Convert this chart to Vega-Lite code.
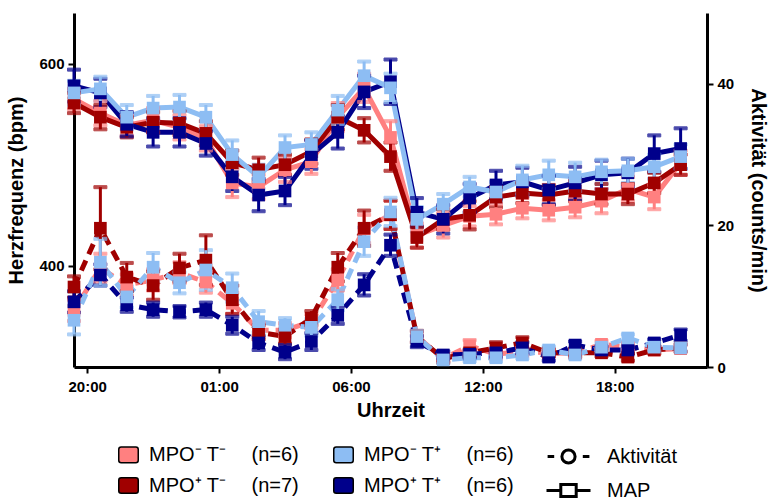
{
  "$schema": "https://vega.github.io/schema/vega-lite/v6.json",
  "width": 633,
  "height": 354,
  "autosize": "none",
  "padding": {"left": 74, "top": 13, "right": 65, "bottom": 135},
  "background": "white",
  "config": {
    "view": {"stroke": null},
    "font": "Liberation Sans",
    "axis": {
      "domainColor": "black", "domainWidth": 3, "tickColor": "black", "tickWidth": 2, "tickSize": 6,
      "labelFont": "Liberation Sans", "labelFontWeight": "bold", "labelFontSize": 15, "labelColor": "black",
      "titleFont": "Liberation Sans", "titleFontWeight": "bold", "titleFontSize": 20, "titleColor": "black",
      "grid": false
    }
  },
  "data": {"values": [
    {"g":"A","i":0,"hr":565,"hs":10,"ac":8.0,"as":1.5},{"g":"A","i":1,"hr":551,"hs":12,"ac":14.0,"as":2},{"g":"A","i":2,"hr":539,"hs":10,"ac":11.6,"as":1.5},{"g":"A","i":3,"hr":544,"hs":12,"ac":12.3,"as":1.5},{"g":"A","i":4,"hr":537,"hs":12,"ac":13.3,"as":1.5},{"g":"A","i":5,"hr":526,"hs":12,"ac":12.0,"as":1.5},{"g":"A","i":6,"hr":482,"hs":14,"ac":9.0,"as":1.5},{"g":"A","i":7,"hr":478,"hs":12,"ac":5.2,"as":1},{"g":"A","i":8,"hr":495,"hs":12,"ac":5.2,"as":1},{"g":"A","i":9,"hr":503,"hs":12,"ac":6.4,"as":1},{"g":"A","i":10,"hr":547,"hs":14,"ac":12.3,"as":1.5},{"g":"A","i":11,"hr":576,"hs":14,"ac":19.5,"as":2},{"g":"A","i":12,"hr":527,"hs":16,"ac":21.5,"as":2},{"g":"A","i":13,"hr":430,"hs":12,"ac":4.3,"as":0.8},{"g":"A","i":14,"hr":440,"hs":12,"ac":1.2,"as":0.5},{"g":"A","i":15,"hr":449,"hs":10,"ac":3.0,"as":0.8},{"g":"A","i":16,"hr":451,"hs":10,"ac":1.8,"as":0.5},{"g":"A","i":17,"hr":457,"hs":10,"ac":2.2,"as":0.5},{"g":"A","i":18,"hr":455,"hs":10,"ac":2.0,"as":0.5},{"g":"A","i":19,"hr":458,"hs":10,"ac":1.9,"as":0.5},{"g":"A","i":20,"hr":464,"hs":12,"ac":3.2,"as":0.5},{"g":"A","i":21,"hr":476,"hs":12,"ac":2.8,"as":0.5},{"g":"A","i":22,"hr":468,"hs":12,"ac":2.4,"as":0.5},{"g":"A","i":23,"hr":502,"hs":12,"ac":2.6,"as":0.5},
    {"g":"B","i":0,"hr":561,"hs":10,"ac":11.3,"as":1.5},{"g":"B","i":1,"hr":547,"hs":12,"ac":19.6,"as":5.8},{"g":"B","i":2,"hr":537,"hs":10,"ac":12.7,"as":2},{"g":"B","i":3,"hr":542,"hs":10,"ac":11.5,"as":2},{"g":"B","i":4,"hr":541,"hs":12,"ac":14.0,"as":2},{"g":"B","i":5,"hr":531,"hs":12,"ac":15.1,"as":3.5},{"g":"B","i":6,"hr":502,"hs":12,"ac":9.5,"as":2},{"g":"B","i":7,"hr":495,"hs":12,"ac":4.9,"as":1},{"g":"B","i":8,"hr":500,"hs":10,"ac":4.3,"as":1},{"g":"B","i":9,"hr":513,"hs":12,"ac":6.9,"as":1},{"g":"B","i":10,"hr":547,"hs":12,"ac":14.1,"as":2},{"g":"B","i":11,"hr":534,"hs":12,"ac":19.6,"as":2.5},{"g":"B","i":12,"hr":508,"hs":14,"ac":21.5,"as":2},{"g":"B","i":13,"hr":428,"hs":10,"ac":4.3,"as":0.8},{"g":"B","i":14,"hr":446,"hs":10,"ac":1.2,"as":0.5},{"g":"B","i":15,"hr":450,"hs":14,"ac":2.0,"as":0.5},{"g":"B","i":16,"hr":468,"hs":10,"ac":2.7,"as":0.8},{"g":"B","i":17,"hr":472,"hs":10,"ac":3.4,"as":0.8},{"g":"B","i":18,"hr":470,"hs":10,"ac":2.0,"as":0.5},{"g":"B","i":19,"hr":474,"hs":10,"ac":2.0,"as":0.5},{"g":"B","i":20,"hr":471,"hs":10,"ac":2.0,"as":0.5},{"g":"B","i":21,"hr":471,"hs":10,"ac":1.4,"as":0.5},{"g":"B","i":22,"hr":482,"hs":10,"ac":2.4,"as":0.5},{"g":"B","i":23,"hr":500,"hs":10,"ac":2.7,"as":0.5},
    {"g":"D","i":0,"hr":578,"hs":16,"ac":9.2,"as":1.5},{"g":"D","i":1,"hr":571,"hs":14,"ac":13.0,"as":1.5},{"g":"D","i":2,"hr":540,"hs":12,"ac":8.8,"as":1},{"g":"D","i":3,"hr":532,"hs":14,"ac":8.1,"as":1},{"g":"D","i":4,"hr":532,"hs":14,"ac":7.8,"as":0.8},{"g":"D","i":5,"hr":521,"hs":12,"ac":8.1,"as":1},{"g":"D","i":6,"hr":488,"hs":14,"ac":5.9,"as":1.2},{"g":"D","i":7,"hr":470,"hs":16,"ac":3.4,"as":1},{"g":"D","i":8,"hr":474,"hs":14,"ac":2.1,"as":1},{"g":"D","i":9,"hr":510,"hs":14,"ac":3.6,"as":1.2},{"g":"D","i":10,"hr":532,"hs":16,"ac":7.3,"as":1.2},{"g":"D","i":11,"hr":572,"hs":16,"ac":11.6,"as":1.5},{"g":"D","i":12,"hr":582,"hs":22,"ac":17.2,"as":1.5},{"g":"D","i":13,"hr":453,"hs":14,"ac":3.6,"as":0.8},{"g":"D","i":14,"hr":446,"hs":14,"ac":1.7,"as":0.5},{"g":"D","i":15,"hr":467,"hs":14,"ac":1.8,"as":0.5},{"g":"D","i":16,"hr":480,"hs":14,"ac":2.0,"as":0.5},{"g":"D","i":17,"hr":483,"hs":14,"ac":2.7,"as":0.8},{"g":"D","i":18,"hr":475,"hs":14,"ac":1.4,"as":0.5},{"g":"D","i":19,"hr":482,"hs":16,"ac":3.1,"as":0.5},{"g":"D","i":20,"hr":490,"hs":14,"ac":2.4,"as":0.5},{"g":"D","i":21,"hr":492,"hs":14,"ac":2.4,"as":0.5},{"g":"D","i":22,"hr":511,"hs":18,"ac":3.4,"as":0.5},{"g":"D","i":23,"hr":516,"hs":20,"ac":4.5,"as":0.8},
    {"g":"C","i":0,"hr":571,"hs":12,"ac":6.6,"as":2},{"g":"C","i":1,"hr":575,"hs":12,"ac":14.8,"as":3.3},{"g":"C","i":2,"hr":547,"hs":12,"ac":9.9,"as":1.5},{"g":"C","i":3,"hr":556,"hs":12,"ac":14.1,"as":2},{"g":"C","i":4,"hr":557,"hs":12,"ac":11.9,"as":1.5},{"g":"C","i":5,"hr":547,"hs":12,"ac":13.7,"as":2.8},{"g":"C","i":6,"hr":510,"hs":14,"ac":11.2,"as":2},{"g":"C","i":7,"hr":488,"hs":12,"ac":6.4,"as":1.5},{"g":"C","i":8,"hr":517,"hs":12,"ac":5.9,"as":1},{"g":"C","i":9,"hr":520,"hs":12,"ac":5.6,"as":1.2},{"g":"C","i":10,"hr":554,"hs":14,"ac":9.5,"as":1.5},{"g":"C","i":11,"hr":588,"hs":14,"ac":17.7,"as":2},{"g":"C","i":12,"hr":576,"hs":14,"ac":21.9,"as":2},{"g":"C","i":13,"hr":446,"hs":12,"ac":4.3,"as":0.8},{"g":"C","i":14,"hr":461,"hs":10,"ac":1.0,"as":0.5},{"g":"C","i":15,"hr":478,"hs":10,"ac":1.3,"as":0.5},{"g":"C","i":16,"hr":473,"hs":10,"ac":1.3,"as":0.5},{"g":"C","i":17,"hr":485,"hs":14,"ac":1.7,"as":0.5},{"g":"C","i":18,"hr":490,"hs":14,"ac":2.4,"as":0.5},{"g":"C","i":19,"hr":488,"hs":14,"ac":1.7,"as":0.5},{"g":"C","i":20,"hr":493,"hs":12,"ac":2.8,"as":0.5},{"g":"C","i":21,"hr":494,"hs":12,"ac":4.1,"as":0.5},{"g":"C","i":22,"hr":498,"hs":12,"ac":2.8,"as":0.5},{"g":"C","i":23,"hr":508,"hs":12,"ac":2.7,"as":0.5}
  ]},
  "layer": [
    {
      "encoding": {
        "x": {"field": "i", "type": "quantitative", "scale": {"domain": [0, 24], "nice": false, "zero": false},
          "axis": {"title": "Uhrzeit", "values": [0.5, 5.5, 10.5, 15.5, 20.5], "labelExpr": "datum.value < 1 ? '20:00' : datum.value < 6 ? '01:00' : datum.value < 11 ? '06:00' : datum.value < 16 ? '12:00' : '18:00'", "labelPadding": 6, "titlePadding": 6}},
        "y": {"field": "hr", "type": "quantitative", "scale": {"domain": [300, 650], "nice": false, "zero": false},
          "axis": {"orient": "left", "title": "Herzfrequenz (bpm)", "values": [400, 600], "labelPadding": 4, "titlePadding": 12}}
      },
      "layer": [
        {"mark": {"type": "line", "strokeWidth": 5},
          "encoding": {"stroke": {"field": "g", "type": "nominal", "scale": {"domain": ["A", "B", "D", "C"], "range": ["#FF8080", "#A00000", "#00008B", "#8DBDF3"]}, "legend": null}}},
        {"mark": {"type": "errorbar", "thickness": 3, "ticks": {"size": 13, "thickness": 3}},
          "encoding": {"yError": {"field": "hs"},
            "stroke": {"field": "g", "type": "nominal", "scale": {"domain": ["A", "B", "D", "C"], "range": ["#FF8080", "#A00000", "#00008B", "#8DBDF3"]}, "legend": null},
            "fill": {"field": "g", "type": "nominal", "scale": {"domain": ["A", "B", "D", "C"], "range": ["#FF8080", "#A00000", "#00008B", "#8DBDF3"]}, "legend": null}}},
        {"mark": {"type": "point", "shape": "square", "filled": true, "size": 160, "opacity": 1},
          "encoding": {"color": {"field": "g", "type": "nominal",
            "scale": {"domain": ["A", "C", "B", "D"], "range": ["#FF8080", "#8DBDF3", "#A00000", "#00008B"]},
            "legend": {
              "orient": "none", "legendX": 44, "legendY": 431, "columns": 2, "title": null, "direction": "horizontal",
              "labelFont": "Liberation Sans", "labelFontSize": 20, "labelColor": "black", "labelLimit": 400, "labelOffset": 10,
              "symbolSize": 380, "columnPadding": 30, "rowPadding": 8,
              "symbolStrokeColor": "black", "symbolStrokeWidth": 1.5, "symbolOpacity": 1,
              "symbolType": "M-0.75,-0.8H0.75Q1,-0.8 1,-0.55V0.55Q1,0.8 0.75,0.8H-0.75Q-1,0.8 -1,0.55V-0.55Q-1,-0.8 -0.75,-0.8Z",
              "labelExpr": "datum.label == 'A' ? 'MPO⁻ T⁻\u2003 (n=6)' : datum.label == 'B' ? 'MPO⁺ T⁻\u2003 (n=7)' : datum.label == 'C' ? 'MPO⁻ T⁺\u2003 (n=6)' : 'MPO⁺ T⁺\u2003 (n=6)'"
            }}}}
      ]
    },
    {
      "encoding": {
        "x": {"field": "i", "type": "quantitative", "scale": {"domain": [0, 24], "nice": false, "zero": false},
          "axis": {"title": "Uhrzeit", "values": [0.5, 5.5, 10.5, 15.5, 20.5], "labelExpr": "datum.value < 1 ? '20:00' : datum.value < 6 ? '01:00' : datum.value < 11 ? '06:00' : datum.value < 16 ? '12:00' : '18:00'", "labelPadding": 6, "titlePadding": 6}},
        "y": {"field": "ac", "type": "quantitative", "scale": {"domain": [0, 50], "nice": false},
          "axis": {"orient": "right", "title": "Aktivität (counts/min)", "values": [0, 20, 40], "labelPadding": 4, "titlePadding": 14}}
      },
      "layer": [
        {"mark": {"type": "line", "strokeWidth": 5, "strokeDash": [11, 7]},
          "encoding": {"stroke": {"field": "g", "type": "nominal", "scale": {"domain": ["A", "B", "D", "C"], "range": ["#FF8080", "#A00000", "#00008B", "#8DBDF3"]}, "legend": null}}},
        {"mark": {"type": "errorbar", "thickness": 3, "ticks": {"size": 13, "thickness": 3}},
          "encoding": {"yError": {"field": "as"},
            "stroke": {"field": "g", "type": "nominal", "scale": {"domain": ["A", "B", "D", "C"], "range": ["#FF8080", "#A00000", "#00008B", "#8DBDF3"]}, "legend": null},
            "fill": {"field": "g", "type": "nominal", "scale": {"domain": ["A", "B", "D", "C"], "range": ["#FF8080", "#A00000", "#00008B", "#8DBDF3"]}, "legend": null}}},
        {"mark": {"type": "point", "shape": "square", "filled": true, "size": 160, "opacity": 1},
          "encoding": {"color": {"field": "g", "type": "nominal",
            "scale": {"domain": ["A", "C", "B", "D"], "range": ["#FF8080", "#8DBDF3", "#A00000", "#00008B"]}}}}
      ]
    },
    {
      "data": {"values": [{"m": "Aktivität"}, {"m": "MAP"}]},
      "mark": {"type": "point", "opacity": 0, "filled": false, "stroke": "black", "strokeWidth": 3},
      "encoding": {
        "shape": {"field": "m", "type": "nominal",
          "scale": {"domain": ["Aktivität", "MAP"], "range": ["M-1.9,0H-1.3M-0.6,0A0.6,0.6 0 1,1 0.6,0A0.6,0.6 0 1,1 -0.6,0M1.3,0H1.9", "M-2,0H-0.7M-0.7,-0.55H0.7V0.55H-0.7ZM0.7,0H2"]},
          "legend": {
            "orient": "none", "legendX": 471, "legendY": 431, "title": null, "direction": "vertical",
            "labelFont": "Liberation Sans", "labelFontSize": 20, "labelColor": "black", "labelOffset": 26,
            "symbolSize": 484, "rowPadding": 8, "symbolOffset": 11,
            "symbolStrokeColor": "black", "symbolStrokeWidth": 3, "symbolFillColor": "white", "symbolOpacity": 1
          }}
      }
    }
  ],
  "resolve": {"scale": {"y": "independent"}, "axis": {"y": "independent"}}
}
